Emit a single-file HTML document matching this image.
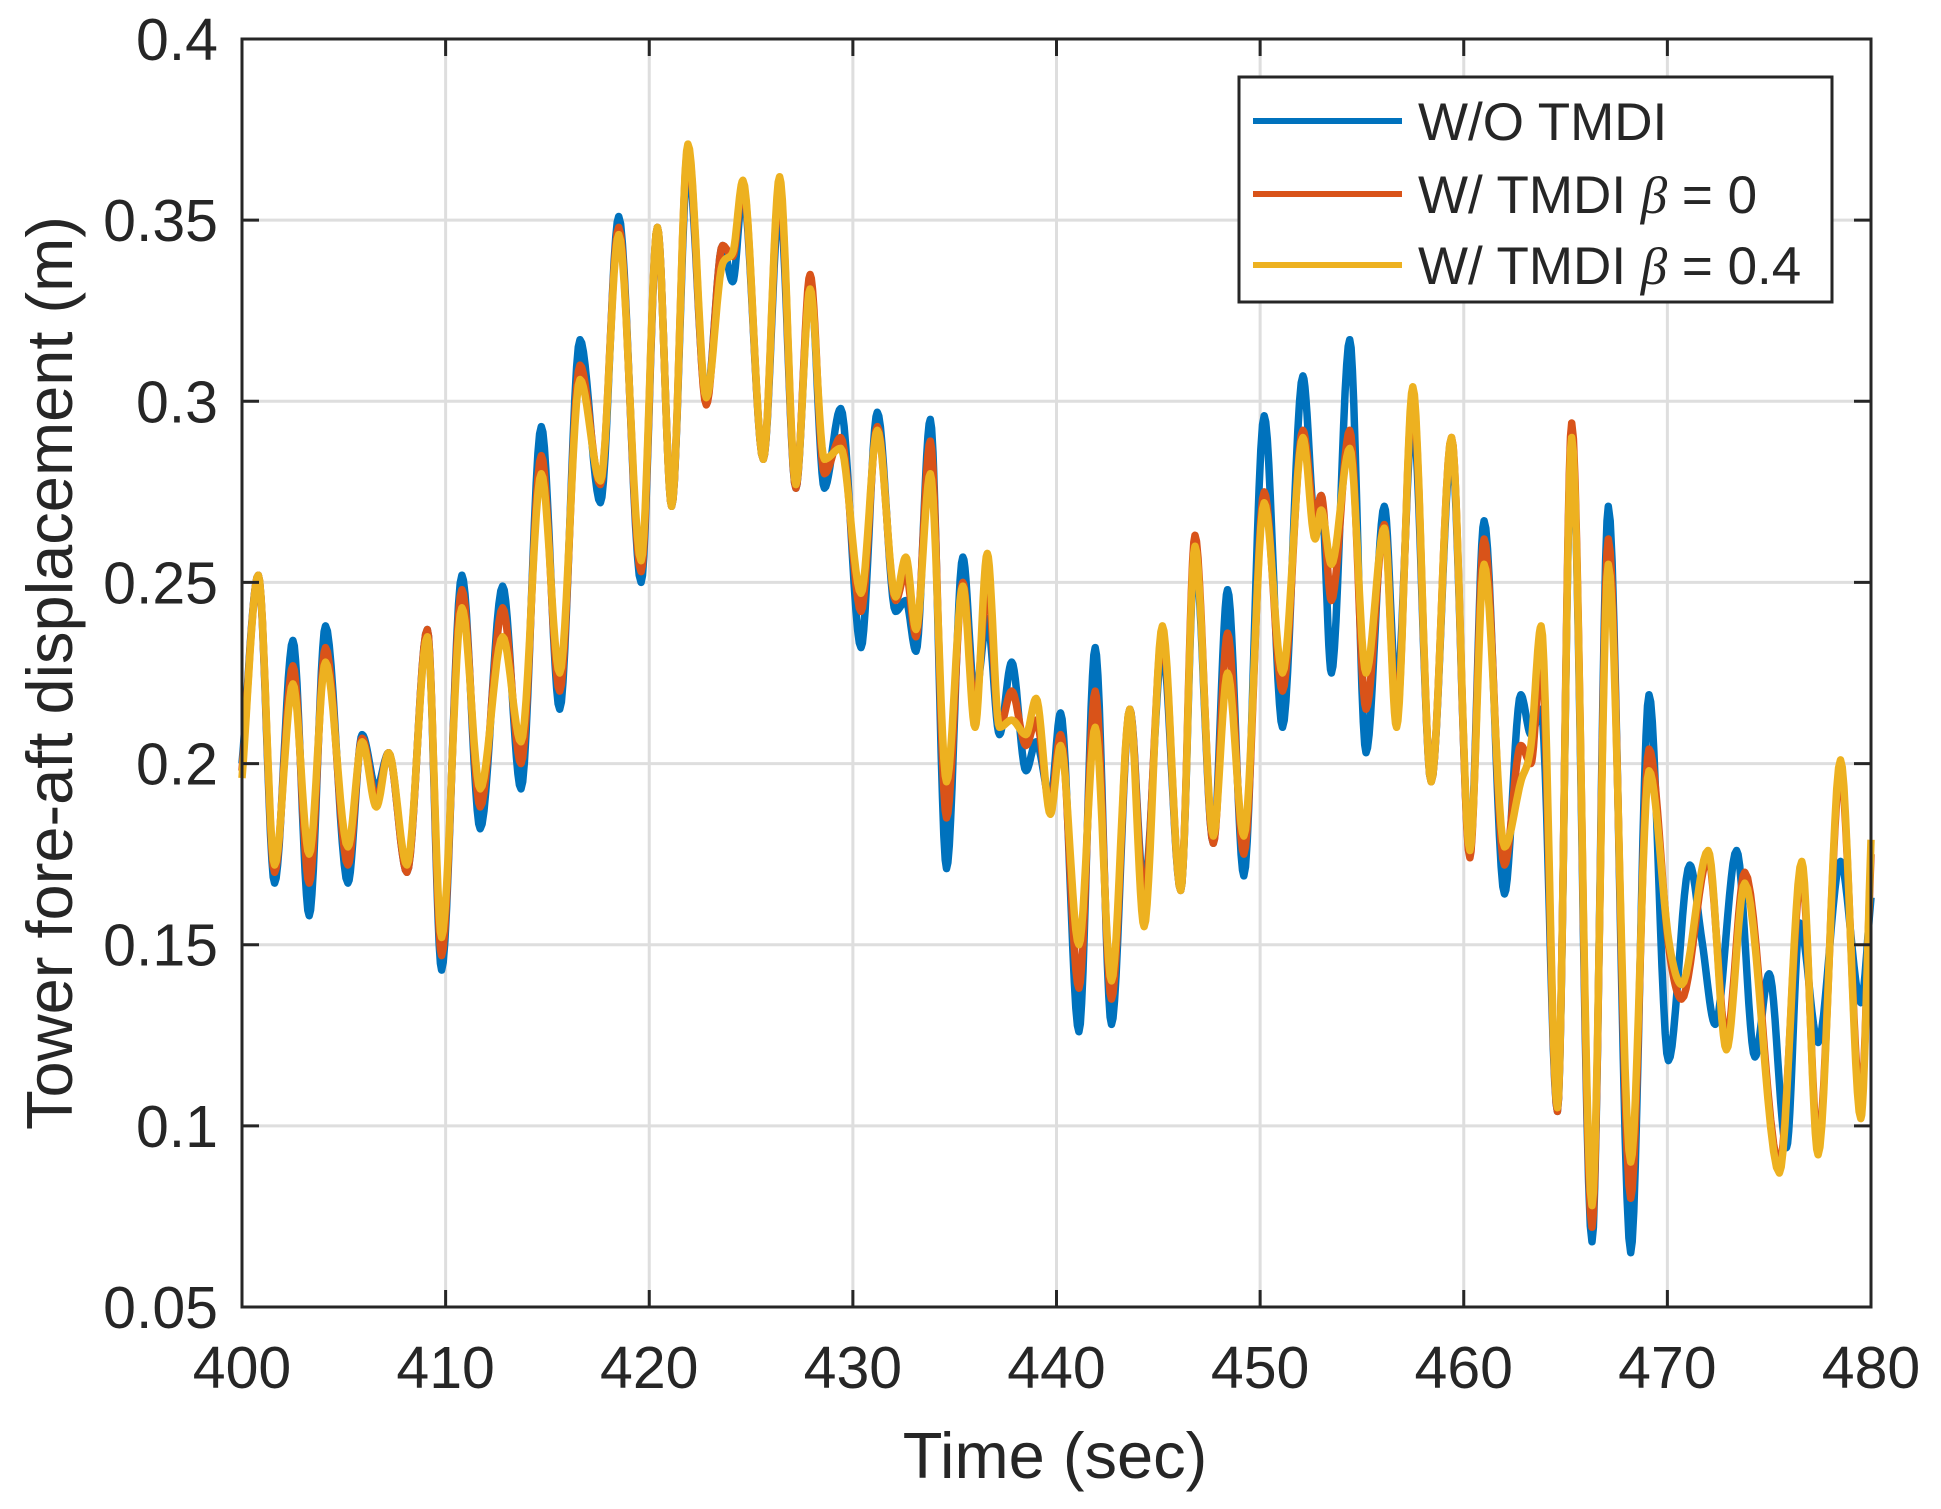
<!DOCTYPE html>
<html><head><meta charset="utf-8"><style>
html,body{margin:0;padding:0;background:#fff;}
svg{display:block;font-family:"Liberation Sans",Arial,sans-serif;}
</style></head><body>
<svg id="chart" width="1941" height="1509" viewBox="0 0 1941 1509">
<rect x="0" y="0" width="1941" height="1509" fill="#fff"/>
<g id="grid"></g>
<g id="series"></g>
<g id="axes"></g>
<text x="1055" y="1478" font-size="65" text-anchor="middle" fill="#262626">Time (sec)</text>
<text transform="translate(72,673) rotate(-90)" font-size="65" text-anchor="middle" fill="#262626">Tower fore-aft displacement (m)</text>
<g>
<rect x="1239" y="77" width="593" height="225" fill="#fff" stroke="#262626" stroke-width="3"/>
<g><line x1="1253" y1="121" x2="1402" y2="121" stroke="#0072BD" stroke-width="6"/><text x="1418" y="140" font-size="53" fill="#262626">W/O TMDI</text></g>
<g><line x1="1253" y1="194" x2="1402" y2="194" stroke="#D95319" stroke-width="6"/><text x="1418" y="213" font-size="53" fill="#262626">W/ TMDI <tspan font-style="italic" font-family="'Liberation Serif',serif">β</tspan> = 0</text></g>
<g><line x1="1253" y1="265" x2="1402" y2="265" stroke="#EDB120" stroke-width="6"/><text x="1418" y="284" font-size="53" fill="#262626">W/ TMDI <tspan font-style="italic" font-family="'Liberation Serif',serif">β</tspan> = 0.4</text></g>
</g>
</svg>
<script>
const xTicks = [400,410,420,430,440,450,460,470,480];
const yTicks = [0.05,0.1,0.15,0.2,0.25,0.3,0.35,0.4];
const yTickLabels = ["0.05","0.1","0.15","0.2","0.25","0.3","0.35","0.4"];
const shareT = [400.0,400.8,401.6,402.5,403.3,404.1,405.2,405.9,406.6,407.2,408.1,409.1,409.8,410.8,411.7,412.8,413.7,414.7,415.6,416.6,417.6,418.5,419.6,420.4,421.1,421.9,422.8,423.6,424.1,424.6,425.6,426.4,427.2,427.9,428.6,429.4,430.4,431.2,432.1,432.6,433.1,433.8,434.6,435.4,436.0,436.6,437.2,437.8,438.5,439.0,439.7,440.2,441.1,441.9,442.7,443.6,444.3,445.2,446.1,446.8,447.7,448.4,449.2,450.2,451.1,452.1,452.7,453.0,453.5,454.4,455.2,456.1,456.7,457.5,458.4,459.4,460.3,461.0,462.0,462.8,463.3,463.8,464.6,465.3,466.3,467.1,468.2,469.1];
const blueHead = [.200,.252,.167,.234,.158,.238,.167,.208,.193,.203,.170,.237,.143,.252,.182,.249,.193,.293,.215,.317,.272,.351,.250,.348,.271,.366,.300,.343,.333,.358,.284,.355,.276,.333,.276,.298,.232,.297,.242,.245,.231,.295,.171,.257,.218,.240,.208,.228,.198,.206,.190,.214,.126,.232,.128,.215,.165,.232,.165,.258,.178,.248,.169,.296,.210,.307,.267,.274,.225,.317,.203,.271,.219,.296,.195,.287,.175,.267,.164,.219,.208,.215,.104,.290,.068,.271,.065,.219];
const orangeHead = [.198,.252,.170,.227,.167,.232,.172,.207,.190,.203,.170,.237,.147,.248,.188,.243,.200,.285,.220,.310,.277,.348,.253,.348,.271,.370,.299,.343,.340,.360,.284,.360,.276,.335,.280,.290,.242,.293,.245,.253,.235,.289,.185,.250,.214,.250,.210,.220,.205,.212,.188,.208,.138,.220,.135,.215,.162,.236,.165,.263,.178,.236,.175,.275,.220,.292,.268,.274,.245,.292,.215,.266,.212,.302,.195,.290,.174,.262,.172,.205,.200,.230,.104,.294,.072,.262,.080,.204];
const yellowHead = [.196,.252,.172,.222,.175,.228,.177,.206,.188,.203,.172,.235,.152,.243,.193,.235,.206,.280,.225,.306,.278,.346,.256,.348,.271,.371,.301,.338,.341,.361,.284,.362,.277,.331,.284,.287,.247,.292,.246,.257,.237,.280,.195,.249,.210,.258,.210,.212,.208,.218,.186,.205,.150,.210,.140,.215,.155,.238,.165,.260,.180,.225,.180,.272,.225,.290,.262,.270,.255,.287,.225,.265,.210,.304,.195,.290,.176,.255,.177,.195,.205,.238,.105,.290,.078,.255,.090,.198];
const blueTailT = [470.05,471.1,471.7,472.35,473.4,474.3,475.0,475.85,476.5,477.4,478.5,479.5,480.0];
const blueTailV = [.118,.172,.151,.128,.176,.119,.142,.094,.156,.123,.173,.134,.163];
const orangeTailT = [470.1,470.7,472.0,472.9,473.8,475.5,476.6,477.4,478.5,479.5,480.0];
const orangeTailV = [.148,.135,.174,.124,.170,.089,.170,.095,.198,.106,.175];
const yellowTailT = [470.1,470.7,472.0,472.9,473.8,475.5,476.6,477.4,478.5,479.5,480.0];
const yellowTailV = [.150,.139,.176,.121,.167,.087,.173,.092,.201,.102,.179];

const L=242,R=1871,T=39,B=1307;
const xS=t=>L+(t-400)/80*(R-L);
const yS=v=>B-(v-0.05)/0.35*(B-T);
const NS="http://www.w3.org/2000/svg";
function mk(tag,attrs,parent){const e=document.createElementNS(NS,tag);for(const k in attrs)e.setAttribute(k,attrs[k]);parent.appendChild(e);return e;}
const grid=document.getElementById('grid'),axes=document.getElementById('axes'),ser=document.getElementById('series');
xTicks.forEach(t=>{
  const g=mk('line',{x1:xS(t),x2:xS(t),y1:T,y2:B,stroke:'#dedede','stroke-width':3},grid);
  
  
  mk('line',{x1:xS(t),x2:xS(t),y1:B,y2:B-17,stroke:'#262626','stroke-width':3},axes);
  mk('line',{x1:xS(t),x2:xS(t),y1:T,y2:T+17,stroke:'#262626','stroke-width':3},axes);
  const tx=mk('text',{x:xS(t),y:1388,'font-size':59,'text-anchor':'middle',fill:'#262626'},axes);
  tx.textContent=t;
  
  
});
yTicks.forEach((v,i)=>{
  const g=mk('line',{x1:L,x2:R,y1:yS(v),y2:yS(v),stroke:'#dedede','stroke-width':3},grid);
  
  
  mk('line',{x1:L,x2:L+17,y1:yS(v),y2:yS(v),stroke:'#262626','stroke-width':3},axes);
  mk('line',{x1:R,x2:R-17,y1:yS(v),y2:yS(v),stroke:'#262626','stroke-width':3},axes);
  const tx=mk('text',{x:218,y:yS(v)+21,'font-size':59,'text-anchor':'end',fill:'#262626'},axes);
  tx.textContent=yTickLabels[i];
  
  
});
const frame=mk('rect',{x:L,y:T,width:R-L,height:B-T,fill:'none',stroke:'#262626','stroke-width':3},axes);



function mono(xs,ys){
  const n=xs.length,d=[],m=new Array(n).fill(0);
  for(let i=0;i<n-1;i++)d.push((ys[i+1]-ys[i])/(xs[i+1]-xs[i]));
  m[0]=d[0];m[n-1]=d[n-2];
  for(let i=1;i<n-1;i++){m[i]=(d[i-1]*d[i]<=0)?0:(d[i-1]+d[i])/2;}
  for(let i=0;i<n-1;i++){if(d[i]===0){m[i]=0;m[i+1]=0;continue;}const a=m[i]/d[i],b=m[i+1]/d[i],s=a*a+b*b;if(s>9){const tt=3/Math.sqrt(s);m[i]=tt*a*d[i];m[i+1]=tt*b*d[i];}}
  let p='';
  for(let i=0;i<n-1;i++){const h=xs[i+1]-xs[i];for(let k=0;k<=12;k++){const s=k/12,s2=s*s,s3=s2*s;
    const v=(2*s3-3*s2+1)*ys[i]+(s3-2*s2+s)*h*m[i]+(-2*s3+3*s2)*ys[i+1]+(s3-s2)*h*m[i+1];
    const t=xs[i]+s*h;p+=(p?'L':'M')+xS(t).toFixed(1)+','+yS(v).toFixed(1);}}
  return p;
}
[[shareT.concat(blueTailT),blueHead.concat(blueTailV),'#0072BD','series-wo-tmdi'],
 [shareT.concat(orangeTailT),orangeHead.concat(orangeTailV),'#D95319','series-tmdi-beta-0'],
 [shareT.concat(yellowTailT),yellowHead.concat(yellowTailV),'#EDB120','series-tmdi-beta-0-4']].forEach(s=>{
  const p=mk('path',{d:mono(s[0],s[1]),fill:'none',stroke:s[2],'stroke-width':7.5,'stroke-linejoin':'round'},ser);
  
  
});
</script>
</body></html>
